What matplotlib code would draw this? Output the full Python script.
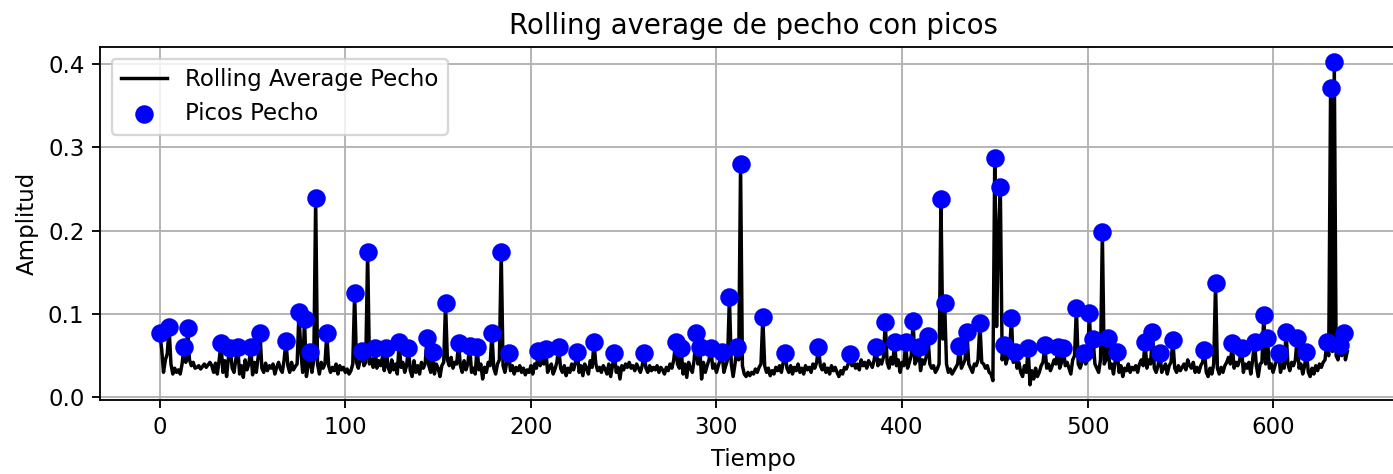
import numpy as np
import matplotlib
matplotlib.use("Agg")
import matplotlib.pyplot as plt

# rolling average del pecho (milesimas), un valor por muestra, 0..640
rolling_pecho_milli = [
    77, 58, 30, 45, 52, 84, 40, 28, 35, 30, 33, 28, 40, 60, 42, 83, 45, 38, 42, 35,
    36, 38, 34, 37, 40, 36, 39, 42, 38, 30, 41, 28, 45, 65, 30, 44, 25, 48, 59, 35,
    30, 46, 60, 28, 38, 24, 45, 33, 40, 60, 27, 42, 30, 48, 77, 35, 30, 41, 32, 38,
    35, 40, 28, 36, 42, 34, 30, 45, 68, 38, 30, 42, 33, 37, 40, 102, 55, 30, 94, 25,
    38, 54, 30, 45, 239, 40, 28, 42, 35, 40, 77, 38, 30, 36, 32, 40, 28, 38, 33, 36,
    30, 34, 28, 32, 40, 125, 42, 35, 45, 56, 38, 42, 174, 40, 46, 36, 59, 35, 44, 38,
    48, 32, 59, 36, 30, 45, 33, 40, 28, 66, 36, 42, 30, 38, 59, 32, 25, 44, 30, 38,
    28, 42, 35, 40, 71, 38, 30, 54, 28, 40, 35, 25, 38, 42, 113, 45, 38, 48, 35, 42,
    40, 65, 38, 30, 44, 33, 40, 62, 30, 35, 28, 60, 33, 40, 22, 36, 30, 42, 38, 77,
    35, 28, 40, 45, 175, 38, 30, 42, 53, 32, 38, 28, 36, 32, 38, 30, 35, 27, 33, 30,
    38, 28, 40, 35, 56, 38, 45, 40, 58, 30, 36, 40, 28, 34, 42, 60, 35, 30, 38, 26,
    35, 30, 40, 33, 42, 54, 30, 38, 26, 40, 35, 28, 44, 36, 66, 40, 32, 36, 30, 38,
    34, 28, 40, 25, 38, 53, 30, 36, 22, 38, 33, 40, 36, 42, 35, 38, 32, 40, 35, 30,
    38, 53, 35, 30, 38, 32, 36, 33, 38, 30, 36, 33, 28, 36, 32, 40, 35, 45, 66, 40,
    35, 59, 28, 40, 24, 42, 35, 30, 45, 77, 40, 60, 22, 42, 30, 38, 45, 59, 35, 40,
    30, 38, 45, 54, 30, 38, 45, 121, 40, 25, 40, 60, 45, 280, 38, 28, 25, 30, 26, 30,
    28, 34, 30, 36, 40, 96, 38, 30, 35, 26, 32, 28, 36, 32, 38, 30, 42, 53, 35, 30,
    38, 28, 36, 32, 40, 30, 35, 28, 38, 33, 36, 30, 40, 35, 42, 60, 38, 33, 40, 30,
    35, 28, 38, 32, 36, 30, 25, 32, 28, 36, 34, 40, 52, 38, 42, 35, 40, 33, 45, 38,
    42, 35, 44, 40, 36, 45, 60, 38, 45, 40, 48, 90, 42, 35, 48, 40, 66, 38, 45, 30,
    42, 38, 66, 35, 42, 50, 92, 40, 45, 60, 32, 45, 40, 48, 74, 40, 35, 38, 30, 34,
    40, 238, 70, 113, 40, 30, 34, 28, 32, 36, 40, 62, 35, 40, 45, 79, 40, 35, 30, 40,
    38, 45, 89, 42, 40, 35, 38, 30, 28, 20, 287, 85, 200, 253, 45, 63, 40, 48, 55, 95,
    42, 55, 35, 42, 30, 25, 38, 30, 59, 15, 32, 22, 35, 25, 30, 38, 42, 63, 35, 40,
    32, 38, 45, 40, 61, 35, 42, 59, 38, 42, 35, 28, 45, 50, 107, 40, 35, 42, 53, 40,
    45, 101, 48, 70, 40, 35, 30, 45, 198, 40, 45, 71, 35, 40, 28, 45, 55, 30, 38, 25,
    35, 32, 40, 30, 36, 33, 38, 30, 40, 45, 38, 67, 35, 45, 40, 79, 35, 30, 38, 53,
    30, 35, 40, 28, 38, 42, 69, 35, 30, 38, 32, 36, 40, 33, 45, 38, 35, 42, 30, 36,
    30, 38, 42, 57, 30, 25, 35, 28, 40, 137, 35, 28, 36, 30, 38, 42, 48, 40, 65, 35,
    42, 38, 45, 59, 30, 40, 35, 42, 28, 45, 67, 38, 25, 40, 42, 99, 40, 71, 35, 40,
    30, 38, 45, 53, 30, 40, 35, 79, 40, 32, 42, 38, 45, 71, 35, 40, 28, 38, 55, 30,
    25, 35, 28, 38, 32, 40, 36, 42, 45, 67, 50, 371, 55, 402, 50, 45, 63, 50, 77, 45,
    55,
]

# indices de los picos detectados
picos_idx = [
    0, 5, 13, 15, 33, 38, 42, 49, 54, 68, 75, 78, 81, 84, 90, 105, 109, 112,
    116, 122, 129, 134, 144, 147, 154, 161, 167, 171, 179, 184, 188, 204, 208,
    215, 225, 234, 245, 261, 278, 281, 289, 291, 297, 303, 307, 311, 313, 325,
    337, 355, 372, 386, 391, 396, 402, 406, 409, 414, 421, 423, 431, 435, 442,
    450, 453, 455, 459, 461, 468, 477, 484, 487, 494, 498, 501, 503, 508, 511,
    516, 531, 535, 539, 546, 563, 569, 578, 583, 590, 595, 597, 603, 607, 613,
    618, 629, 631, 633, 636, 638,
]

rolling_pecho = np.array(rolling_pecho_milli) / 1000.0
tiempo = np.arange(len(rolling_pecho))
picos_idx = np.array(picos_idx)

fig = plt.figure(figsize=(1393 / 165, 474 / 165), dpi=165)
ax = fig.add_axes([0.0721, 0.1561, 0.9377, 0.7441])

ax.plot(tiempo, rolling_pecho, color="black", label="Rolling Average Pecho")
ax.scatter(tiempo[picos_idx], rolling_pecho[picos_idx], color="blue", s=50,
           label="Picos Pecho", zorder=3)

ax.set_xlim(-32, 672)
ax.set_ylim(-0.0032, 0.4202)
ax.set_title("Rolling average de pecho con picos")
ax.set_xlabel("Tiempo")
ax.set_ylabel("Amplitud")
ax.grid(True)
ax.legend(loc="upper left")

fig.savefig("out.png", dpi=165)
